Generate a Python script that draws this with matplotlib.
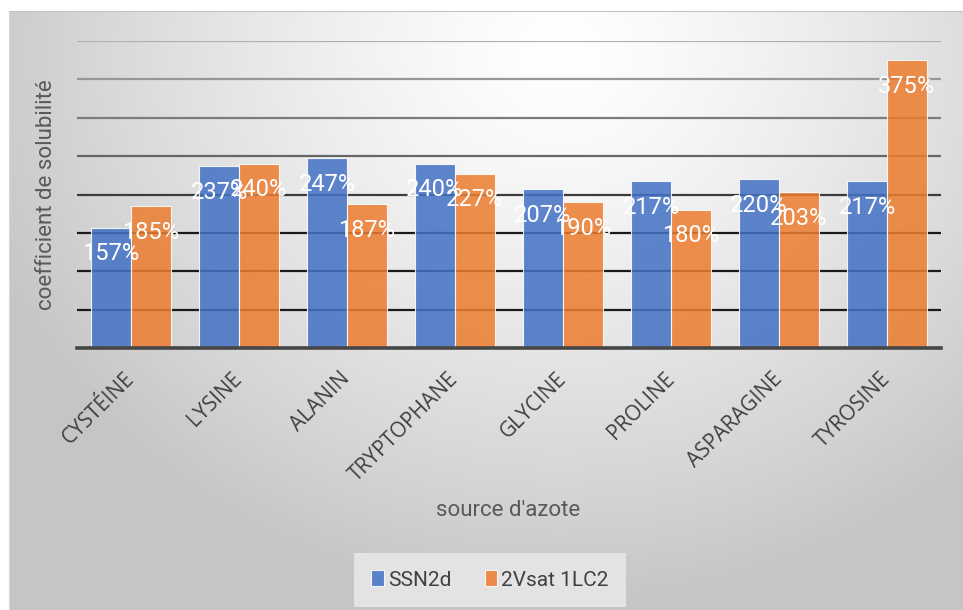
import matplotlib.pyplot as plt
import numpy as np

# data
categories = ['CYSTÉINE', 'LYSINE', 'ALANIN', 'TRYPTOPHANE', 'GLYCINE', 'PROLINE', 'ASPARAGINE', 'TYROSINE']
ssn2d = [157, 237, 247, 240, 207, 217, 220, 217]
vsat = [185, 240, 187, 227, 190, 180, 203, 375]
series_names = ['SSN2d', '2Vsat 1LC2']

fig = plt.figure(figsize=(9.63, 6.10), dpi=100)
fig.patch.set_facecolor('white')

# gradient background of the chart area
bg = fig.add_axes([9 / 963, 0, 954 / 963, 599 / 610], zorder=-5)
H, W = 599, 954
yy, xx = np.mgrid[0:H, 0:W]
r = np.sqrt(((xx - 550) / 620.0) ** 2 + ((yy - 40) / 560.0) ** 2)
r = np.clip(r, 0, 1)
val = (255 - 58 * r ** 1.3) / 255.0
bg.imshow(np.dstack([val, val, val]), aspect='auto', extent=(0, 1, 0, 1))
bg.set_xticks([])
bg.set_yticks([])
for s in bg.spines.values():
    s.set_visible(False)
bg.spines['top'].set_visible(True)
bg.spines['top'].set_color('#c4c4c4')
bg.spines['left'].set_visible(True)
bg.spines['left'].set_color('#d8d8d8')

ax = fig.add_axes([77 / 963, 1 - 348 / 610, 864 / 963, 307 / 610])
ax.set_facecolor('none')

x = np.arange(len(categories))
w = 0.37
b1 = ax.bar(x - w / 2, ssn2d, w, color='#4472C4', alpha=0.86,
            edgecolor=(1, 1, 1, 0.5), linewidth=0.8, label=series_names[0], zorder=2)
b2 = ax.bar(x + w / 2, vsat, w, color='#ED7D31', alpha=0.86,
            edgecolor=(1, 1, 1, 0.5), linewidth=0.8, label=series_names[1], zorder=2)

# value labels inside the bars
for xs, vals in [(x - w / 2, ssn2d), (x + w / 2, vsat)]:
    for xi, v in zip(xs, vals):
        ax.annotate(f'{v}%', xy=(xi, v), xytext=(0, -26), textcoords='offset pixels',
                    ha='center', va='center', color='white', fontsize=17,
                    family='Roboto', zorder=5)

ax.set_xlim(-0.5, 7.5)
ax.set_ylim(0, 400)
ax.set_yticks(np.arange(0, 401, 50))
ax.set_yticklabels([])
ax.tick_params(axis='y', length=0)
ax.set_axisbelow(True)
ax.yaxis.grid(True, linewidth=1.6)
grid_colors = ['#1a1a1a', '#1a1a1a', '#1a1a1a', '#1a1a1a', '#3c3c3c',
               '#666666', '#7c7c7c', '#979797', '#b0b0b0']
for gl, c in zip(ax.get_ygridlines(), grid_colors):
    gl.set_color(c)

for s in ['top', 'right', 'left']:
    ax.spines[s].set_visible(False)
ax.spines['bottom'].set_color('#474747')
ax.spines['bottom'].set_linewidth(2.6)
ax.spines['bottom'].set_zorder(3)

ax.set_xticks(x)
ax.set_xticklabels(categories, rotation=45, ha='right', va='center',
                   rotation_mode='anchor', fontsize=15, color='#404040',
                   family='Open Sans')
ax.tick_params(axis='x', length=0, pad=20)

ax.set_ylabel('coefficient de solubilité', fontsize=16, color='#595959', family='Roboto')
ax.yaxis.set_label_coords(-0.023, 0.5)
fig.text(508 / 963, 1 - 510 / 610, "source d'azote", ha='center', va='center',
         fontsize=16, color='#595959', family='Roboto')

leg = fig.legend(handles=[b1, b2], loc='center', bbox_to_anchor=(490 / 963, 1 - 580 / 610),
                 ncol=2, frameon=True, handlelength=0.6, handleheight=0.8,
                 handletextpad=0.2, columnspacing=1.6, borderpad=0.55,
                 prop={'family': 'Roboto', 'size': 15})
leg.get_frame().set_facecolor('#e3e3e3')
leg.get_frame().set_edgecolor('none')
leg.get_frame().set_alpha(1)
leg.get_frame().set_boxstyle('square')
for t in leg.get_texts():
    t.set_color('#404040')

fig.savefig('out.png', dpi=100)
